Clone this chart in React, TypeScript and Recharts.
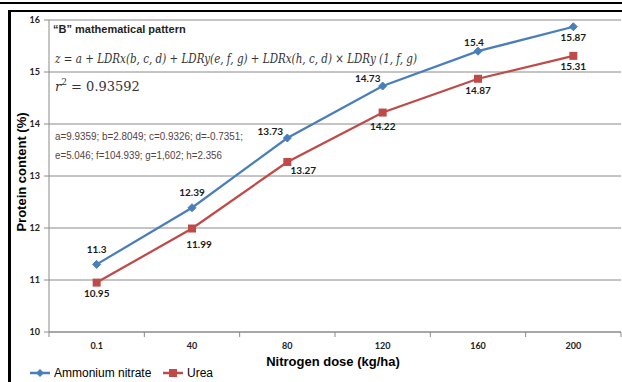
import React from 'react';
import { LineChart, Line, XAxis, YAxis, CartesianGrid, LabelList } from 'recharts';

// nitrogen dose categories and protein content per fertilizer
const doses = ['0.1', '40', '80', '120', '160', '200'];
const ammoniumNitrate = [11.3, 12.39, 13.73, 14.73, 15.4, 15.87];
const urea = [10.95, 11.99, 13.27, 14.22, 14.87, 15.31];
const yTicks = [10, 11, 12, 13, 14, 15, 16];

const data = doses.map((dose, i) => ({ dose, an: ammoniumNitrate[i], urea: urea[i] }));

const W = 622;
const H = 382;
const margin = { top: 20, right: 1, bottom: 30, left: 0 };
const AXIS_Y = 332;
const BAND = (W - 49 - margin.right) / doses.length;

const BLUE = '#4A7EBB';
const RED = '#BE4B48';
const GRID = '#8a8a8a';
const LABEL_FONT = 'Lato, "Open Sans", sans-serif';

// where each value label sits relative to its point (centre offsets)
const anShift = [[0, -15], [0, -16], [-17, -7], [-15, -8], [-4, -9], [0, 10]];
const ureaShift = [[0, 10], [7, 15], [16, 8], [0, 13], [0, 11], [0, 10]];

const makeLabel = (shift: number[][]) => (props: any) => {
  const { x, y, value, index } = props;
  const [dx, dy] = shift[index] || [0, -12];
  return (
    <text x={x + dx} y={y + dy} textAnchor="middle" dominantBaseline="central"
      fontFamily={LABEL_FONT} fontWeight={700} fontSize={10} fill="#1a1a1a">
      {value}
    </text>
  );
};

const Diamond = (props: any) => {
  const { cx, cy, index } = props;
  if (cx == null || cy == null) return <g key={`dm-${index}`} />;
  const r = 4;
  return (
    <path key={`dm-${index}`} d={`M${cx},${cy - r}L${cx + r},${cy}L${cx},${cy + r}L${cx - r},${cy}Z`}
      fill={BLUE} stroke={BLUE} strokeWidth={1} />
  );
};

const Square = (props: any) => {
  const { cx, cy, index } = props;
  if (cx == null || cy == null) return <g key={`sq-${index}`} />;
  return <rect key={`sq-${index}`} x={cx - 4} y={cy - 4} width={8} height={8} fill={RED} />;
};

const DoseTick = (props: any) => {
  const { x, payload, index } = props;
  const half = payload?.offset || BAND / 2;
  return (
    <g>
      <line x1={x - half} x2={x - half} y1={AXIS_Y} y2={AXIS_Y + 5} stroke={GRID} />
      {index === doses.length - 1 && (
        <line x1={x + half} x2={x + half} y1={AXIS_Y} y2={AXIS_Y + 5} stroke={GRID} />
      )}
      <text x={x} y={AXIS_Y + 17} textAnchor="middle" fontFamily={LABEL_FONT}
        fontWeight={700} fontSize={9} fill="#222">
        {payload.value}
      </text>
    </g>
  );
};

const legendItems = [
  { name: 'Ammonium nitrate', color: BLUE, marker: 'diamond', x: 30 },
  { name: 'Urea', color: RED, marker: 'square', x: 163 },
];

function Overlay() {
  return (
    <svg width={W} height={H} style={{ position: 'absolute', left: 0, top: 0, pointerEvents: 'none' }}>
      {/* frame */}
      <rect x={0} y={2} width={W} height={2} fill="#000" />
      <rect x={8} y={10} width={W - 8} height={2} fill="#000" />
      <rect x={8} y={10} width={3} height={H - 10} fill="#000" />

      {/* annotations */}
      <text x={53} y={33} fontFamily="'Liberation Sans', Arial, sans-serif" fontWeight={700} fontSize={11} fill="#1f1f1f">
        “B” mathematical pattern
      </text>
      <text x={55} y={63} fontFamily="'DejaVu Serif', 'Liberation Serif', serif" fontStyle="italic" fontSize={13}
        fill="#333" textLength={362} lengthAdjust="spacingAndGlyphs">
        z = a + LDRx(b, c, d) + LDRy(e, f, g) + LDRx(h, c, d) × LDRy (1, f, g)
      </text>
      <text x={55} y={91} fontFamily="'DejaVu Serif', 'Liberation Serif', serif" fontSize={13} fill="#333">
        <tspan fontStyle="italic">r</tspan>
        <tspan fontSize={9} dy={-6}>2</tspan>
        <tspan dy={6}> = 0.93592</tspan>
      </text>
      <text x={55} y={140} fontFamily="'Liberation Sans', Arial, sans-serif" fontSize={10.5} fill="#574242"
        textLength={188} lengthAdjust="spacingAndGlyphs">
        a=9.9359; b=2.8049; c=0.9326; d=-0.7351;
      </text>
      <text x={55} y={159} fontFamily="'Liberation Sans', Arial, sans-serif" fontSize={10.5} fill="#574242"
        textLength={167} lengthAdjust="spacingAndGlyphs">
        e=5.046; f=104.939; g=1,602; h=2.356
      </text>

      {/* axis titles */}
      <text x={26} y={172} transform="rotate(-90, 26, 172)" textAnchor="middle"
        fontFamily="'Liberation Sans', Arial, sans-serif" fontWeight={700} fontSize={13} fill="#000">
        Protein content (%)
      </text>
      <text x={333} y={366} textAnchor="middle"
        fontFamily="'Liberation Sans', Arial, sans-serif" fontWeight={700} fontSize={13} fill="#000">
        Nitrogen dose (kg/ha)
      </text>

      {/* legend */}
      {legendItems.map((it) => (
        <g key={it.name}>
          <line x1={it.x} x2={it.x + 20} y1={373} y2={373} stroke={it.color} strokeWidth={2.5} />
          {it.marker === 'diamond' ? (
            <path d={`M${it.x + 10},369L${it.x + 14},373L${it.x + 10},377L${it.x + 6},373Z`} fill={it.color} />
          ) : (
            <rect x={it.x + 6} y={369} width={8} height={8} fill={it.color} />
          )}
          <text x={it.x + 24} y={377} fontFamily="'Liberation Sans', Arial, sans-serif" fontSize={12} fill="#000">
            {it.name}
          </text>
        </g>
      ))}
    </svg>
  );
}

export default function App() {
  return (
    <div style={{ position: 'fixed', left: 0, top: 0, width: W, height: H, background: '#fff' }}>
      <LineChart width={W} height={H} data={data} margin={margin}>
        <CartesianGrid horizontal vertical={false} stroke={GRID} strokeWidth={1} />
        <XAxis dataKey="dose" scale="band" height={20} tickLine={false} axisLine={{ stroke: GRID }}
          tick={<DoseTick />} interval={0} />
        <YAxis domain={[10, 16]} ticks={yTicks} width={49} interval={0}
          axisLine={{ stroke: GRID }} tickLine={{ stroke: GRID }} tickSize={5} tickMargin={4}
          tick={{ fontSize: 9, fontWeight: 700, fill: '#222', fontFamily: LABEL_FONT }} />
        <Line dataKey="an" name="Ammonium nitrate" stroke={BLUE} strokeWidth={2.25}
          dot={Diamond} activeDot={false} isAnimationActive={false}>
          <LabelList dataKey="an" content={makeLabel(anShift)} />
        </Line>
        <Line dataKey="urea" name="Urea" stroke={RED} strokeWidth={2.25}
          dot={Square} activeDot={false} isAnimationActive={false}>
          <LabelList dataKey="urea" content={makeLabel(ureaShift)} />
        </Line>
      </LineChart>
      <Overlay />
    </div>
  );
}
